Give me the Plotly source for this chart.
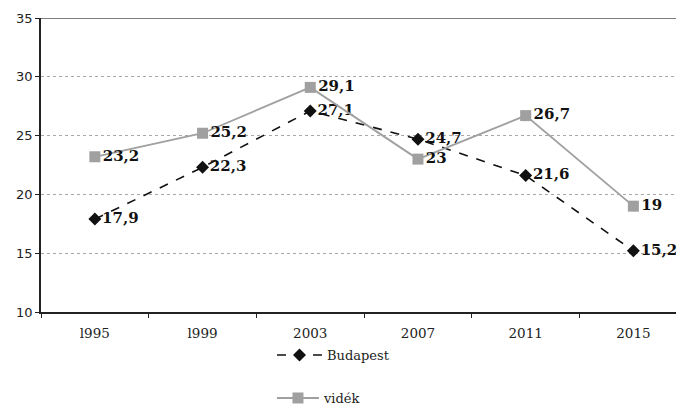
import plotly.graph_objects as go

years = ["l995", "l999", "2003", "2007", "2011", "2015"]
budapest = [17.9, 22.3, 27.1, 24.7, 21.6, 15.2]
videk = [23.2, 25.2, 29.1, 23, 26.7, 19]
y_ticks = [10, 15, 20, 25, 30, 35]

def fmt(v):
    return f"{v:g}".replace(".", ",")

lab_font = dict(family="DejaVu Serif", size=15, color="#111111")

fig = go.Figure()
fig.add_trace(go.Scatter(
    x=years, y=budapest, name="Budapest", mode="lines+markers+text",
    line=dict(color="#111111", width=1.6, dash="dash"),
    marker=dict(symbol="diamond", size=10, color="#111111"),
    text=["<b>" + fmt(v) + "</b>" for v in budapest],
    textposition="middle right", textfont=lab_font,
    legend="legend", showlegend=True,
))
fig.add_trace(go.Scatter(
    x=years, y=videk, name="vidék", mode="lines+markers+text",
    line=dict(color="#a0a0a0", width=1.8),
    marker=dict(symbol="square", size=11, color="#a0a0a0"),
    text=["<b>" + fmt(v) + "</b>" for v in videk],
    textposition="middle right", textfont=lab_font,
    legend="legend2", showlegend=True,
))

leg_font = dict(family="DejaVu Serif", size=13, color="#222222")
fig.update_layout(
    width=676, height=398,
    showlegend=True,
    font=dict(family="DejaVu Serif", size=13, color="#222222"),
    margin=dict(l=33, r=0, t=10, b=94, autoexpand=False),
    paper_bgcolor="white", plot_bgcolor="white",
    xaxis=dict(
        type="category", range=[-0.5, 5.47], tickson="boundaries",
        showline=True, linecolor="#222222", linewidth=1.5,
        ticks="outside", ticklen=4, tickcolor="#222222",
        showgrid=False, zeroline=False, automargin=False,
        ticklabelstandoff=8,
        tickfont=dict(family="DejaVu Serif", size=13.5, color="#222222"),
    ),
    yaxis=dict(
        range=[10, 35], tickvals=y_ticks,
        showline=True, linecolor="#222222", linewidth=1.5,
        ticks="outside", ticklen=4, tickcolor="#222222",
        showgrid=True, gridcolor="#a8a8a8", griddash="dot", gridwidth=1,
        zeroline=False, automargin=False,
        tickfont=dict(family="DejaVu Sans", size=13, color="#222222"),
    ),
    legend=dict(xref="container", yref="container", x=0.3905, y=0.128,
                xanchor="left", yanchor="middle", visible=True,
                itemwidth=45,
                font=leg_font, bgcolor="rgba(0,0,0,0)"),
    legend2=dict(xref="container", yref="container", x=0.3905, y=0.02,
                 xanchor="left", yanchor="middle", visible=True,
                 itemwidth=42,
                 font=leg_font, bgcolor="rgba(0,0,0,0)"),
    shapes=[dict(type="line", xref="paper", yref="y", x0=0, x1=1, y0=35, y1=35,
                 line=dict(color="#555555", width=1.5))],
)

fig.write_html("out.html")
